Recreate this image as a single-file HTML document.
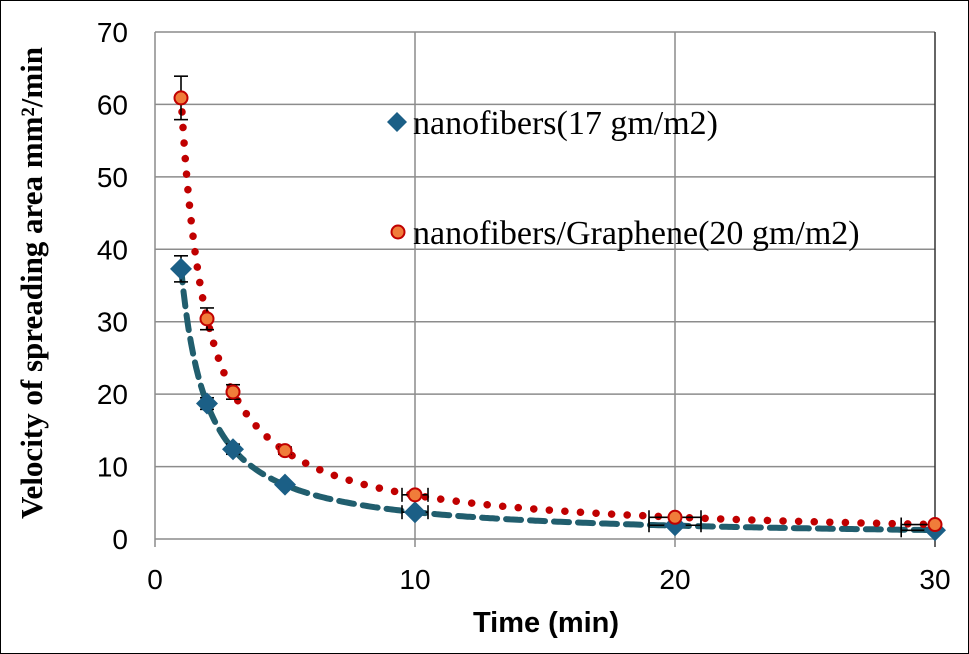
<!DOCTYPE html>
<html><head><meta charset="utf-8"><style>
html,body{margin:0;padding:0;background:#fff}
svg{display:block}
</style></head><body>
<svg id="chart" width="969" height="654" xmlns="http://www.w3.org/2000/svg">
<rect x="0.5" y="0.5" width="968" height="653" fill="#fff" stroke="#000" stroke-width="1"/>
<g id="grid"></g>
<g id="axes"></g>
<g id="series"></g>
<text x="546" y="632" font-family="Liberation Sans, sans-serif" font-weight="bold" font-size="29" text-anchor="middle">Time (min)</text>
<text transform="translate(42,283) rotate(-90)" font-family="Liberation Serif, serif" font-weight="bold" font-size="31" text-anchor="middle">Velocity of spreading area mm²/min</text>
<g>
<g>
<polygon points="397,112 407,122 397,132 387,122" fill="#1b5f86"/>
<text x="413" y="134" font-family="Liberation Serif, serif" font-size="34">nanofibers(17 gm/m2)</text>
</g>
<g>
<circle cx="398" cy="232" r="6.5" fill="#f07c3a" stroke="#c00000" stroke-width="2"/>
<text x="413" y="244" font-family="Liberation Serif, serif" font-size="34">nanofibers/Graphene(20 gm/m2)</text>
</g>
</g>
</svg>
<script>
const times=[1,2,3,5,10,20,30];
const nanoVals=[37.3,18.7,12.4,7.5,3.7,1.9,1.2];
const nanoErr=[1.8,0.8,0.7,0.4,0.3,0.2,0.1];
const grapheneVals=[60.9,30.4,20.3,12.2,6.1,3.0,2.0];
const grapheneErr=[3.0,1.5,1.0,0.5,0.3,0.2,0.1];
const xErr=[0,0,0,0,0.5,1,1.3];
const xTicks=[0,10,20,30];
const yTicks=[0,10,20,30,40,50,60,70];
const NS='http://www.w3.org/2000/svg';
const X0=155,X1=935,Y0=539,Y1=32;
const sx=v=>X0+(v-0)/(30-0)*(X1-X0);
const sy=v=>Y0-(v-0)/(70-0)*(Y0-Y1);
function mk(tag,attrs,parent){const e=document.createElementNS(NS,tag);for(const k in attrs)e.setAttribute(k,attrs[k]);parent.appendChild(e);return e;}
const grid=document.getElementById('grid'),axes=document.getElementById('axes'),ser=document.getElementById('series');
yTicks.forEach(t=>{
 const l=mk('line',{x1:X0,x2:X1,y1:sy(t),y2:sy(t),stroke:'#8c8c8c','stroke-width':1.5},grid);
 
 
 const tx=mk('text',{x:128,y:sy(t)+10,'text-anchor':'end','font-family':'Liberation Sans, sans-serif','font-size':28},axes);
 tx.textContent=t;
 
 
});
xTicks.forEach(t=>{
 const l=mk('line',{x1:sx(t),x2:sx(t),y1:Y1,y2:Y0+8,stroke:t===30?'#333':'#8c8c8c','stroke-width':1.5},grid);
 
 
 const tx=mk('text',{x:sx(t),y:589,'text-anchor':'middle','font-family':'Liberation Sans, sans-serif','font-size':28},axes);
 tx.textContent=t;
 
 
});
function powerFit(xs,ys){let n=xs.length,sx1=0,sy1=0,sxx=0,sxy=0;for(let i=0;i<n;i++){const a=Math.log(xs[i]),b=Math.log(ys[i]);sx1+=a;sy1+=b;sxx+=a*a;sxy+=a*b;}const b=(n*sxy-sx1*sy1)/(n*sxx-sx1*sx1);const a=Math.exp((sy1-b*sx1)/n);return [a,b];}
function trend(vals,attrs,name){const [a,b]=powerFit(times,vals);let d='';for(let i=0;i<=300;i++){const x=1+i*29/300;d+=(i?'L':'M')+sx(x).toFixed(1)+','+sy(a*Math.pow(x,b)).toFixed(1);}const p=mk('path',Object.assign({d:d,fill:'none'},attrs),ser);}
trend(nanoVals,{stroke:'#215e6e','stroke-width':6,'stroke-dasharray':'15 9','stroke-linecap':'round'},'nanofibers-trendline');
trend(grapheneVals,{stroke:'#c00000','stroke-width':7.5,'stroke-dasharray':'0.1 15.5','stroke-linecap':'round'},'graphene-trendline');
function errBars(vals,errs,name){times.forEach((t,i)=>{const g=mk('g',{stroke:'#000','stroke-width':1.6},ser);const x=sx(t),y=sy(vals[i]);
 if(errs[i]>0.35){const yt=sy(vals[i]+errs[i]),yb=sy(vals[i]-errs[i]);mk('line',{x1:x,x2:x,y1:yt,y2:yb},g);mk('line',{x1:x-7,x2:x+7,y1:yt,y2:yt},g);mk('line',{x1:x-7,x2:x+7,y1:yb,y2:yb},g);}
 if(xErr[i]>0){const xl=sx(t-xErr[i]),xr=sx(Math.min(30,t+xErr[i]));mk('line',{x1:xl,x2:xr,y1:y,y2:y},g);mk('line',{x1:xl,x2:xl,y1:y-7,y2:y+7},g);mk('line',{x1:xr,x2:xr,y1:y-7,y2:y+7},g);}
});}
errBars(nanoVals,nanoErr,'nanofibers-error-bar');
errBars(grapheneVals,grapheneErr,'graphene-error-bar');
times.forEach((t,i)=>{const x=sx(t),y=sy(nanoVals[i]);const p=mk('polygon',{points:`${x},${y-11} ${x+11},${y} ${x},${y+11} ${x-11},${y}`,fill:'#1b5f86'},ser);
 
 });
times.forEach((t,i)=>{const c=mk('circle',{cx:sx(t),cy:sy(grapheneVals[i]),r:6.5,fill:'#f07c3a',stroke:'#c00000','stroke-width':2},ser);
 
 });
</script>
</body></html>
